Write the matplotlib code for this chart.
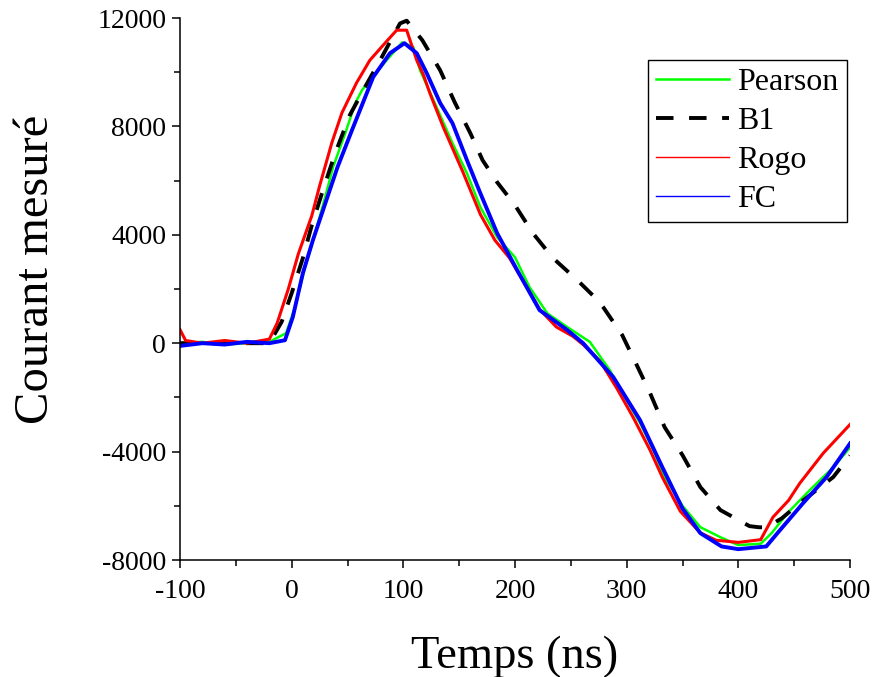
import matplotlib
matplotlib.use("Agg")
import matplotlib.pyplot as plt
from matplotlib.ticker import MultipleLocator

# values (time in ns, current)
pearson_t = [-100, -80, -60, -40, -20, -5, 3, 12, 21, 30, 37, 48, 57, 63, 75, 85, 99, 109,
             115, 127, 144, 157, 169, 184, 200, 213, 229, 247, 267, 285, 300, 312, 324, 334,
             350, 366, 384, 400, 420, 430, 444, 464, 485, 500]
pearson_i = [0, 50, -50, 0, 50, 370, 1330, 2800, 4060, 5390, 6490, 7750, 8860, 9340, 9950,
             10440, 11100, 10920, 10070, 8970, 7380, 6270, 5020, 3910, 3170, 2070, 1100, 590,
             50, -1000, -2100, -2950, -3950, -4940, -6000, -6790, -7160, -7450, -7400, -7000,
             -6270, -5420, -4580, -3850]

b1_t = [-100, -60, -20, -9, 0, 10, 18, 28, 39, 52, 65, 80, 97, 103, 117, 133, 146, 160, 171,
        184, 200, 216, 234, 256, 274, 279, 296, 310, 321, 334, 350, 366, 384, 410, 418, 425,
        439, 455, 485, 500]
b1_i = [0, 0, 0, 786, 1845, 3136, 4350, 5650, 7010, 8410, 9400, 10500, 11800, 11900, 11180,
        10070, 8890, 7750, 6750, 5940, 5090, 4060, 3140, 2320, 1590, 1330, 300, -890, -1845,
        -3100, -4130, -5310, -6160, -6750, -6790, -6800, -6460, -5900, -4940, -4150]

rogo_t = [-100, -95, -80, -60, -40, -20, -13, -3, 6, 18, 25, 36, 45, 58, 70, 82, 94, 103, 112,
          118, 124, 136, 153, 169, 182, 195, 208, 222, 237, 252, 261, 276, 291, 306, 321, 332,
          348, 366, 380, 400, 420, 431, 445, 455, 476, 500]
rogo_i = [500, 100, 0, 100, 0, 150, 740, 2000, 3300, 4700, 5800, 7400, 8500, 9600, 10440,
          11000, 11550, 11550, 10440, 9900, 9200, 7950, 6350, 4750, 3800, 3150, 2250, 1250,
          600, 250, -50, -650, -1650, -2750, -3950, -4950, -6200, -7000, -7270, -7350,
          -7250, -6420, -5800, -5170, -4060, -3000]

fc_t = [-100, -80, -60, -40, -20, -6, 1, 10, 19, 32, 41, 54, 73, 88, 101, 112, 121, 133, 144,
        157, 169, 184, 202, 222, 247, 261, 288, 312, 332, 350, 366, 385, 400, 425, 435, 458,
        479, 500]
fc_i = [-100, 0, -50, 50, 0, 110, 960, 2580, 3800, 5390, 6490, 7860, 9820, 10700, 11070,
        10700, 9960, 8860, 8120, 6750, 5530, 4060, 2690, 1220, 480, 0, -1250, -2840, -4580,
        -6100, -7010, -7500, -7600, -7500, -7010, -5900, -4940, -3700]

plt.rcParams['font.family'] = ['Liberation Serif', 'DejaVu Serif']
plt.rcParams['axes.unicode_minus'] = False

fig = plt.figure(figsize=(8.75, 6.77), dpi=100)
ax = fig.add_axes([180 / 875, 1 - 560 / 677, 670 / 875, 542 / 677])

ax.plot(pearson_t, pearson_i, color='#00ff00', lw=1.8, label='Pearson')
ax.plot(b1_t, b1_i, color='black', lw=2.8, dashes=(4.5, 4), label='B1')
ax.plot(rogo_t, rogo_i, color='#ff0000', lw=2.2, label='Rogo')
ax.plot(fc_t, fc_i, color='#0000ff', lw=2.8, label='FC')

ax.set_xlim(-100, 500)
ax.set_ylim(-8000, 12000)
ax.xaxis.set_major_locator(MultipleLocator(100))
ax.xaxis.set_minor_locator(MultipleLocator(50))
ax.yaxis.set_major_locator(MultipleLocator(4000))
ax.yaxis.set_minor_locator(MultipleLocator(2000))
ax.spines['top'].set_visible(False)
ax.spines['right'].set_visible(False)
for s in ('left', 'bottom'):
    ax.spines[s].set_linewidth(1.1)
ax.tick_params(which='major', direction='out', length=6, width=1.1, labelsize=20, pad=4)
ax.tick_params(axis='x', which='major', pad=8)
ax.tick_params(which='minor', direction='out', length=4, width=1.1)

ax.set_xlabel('Temps (ns)', fontsize=33.5)
ax.set_ylabel('Courant mesuré', fontsize=35)
ax.xaxis.set_label_coords(0.5, -0.14)
ax.yaxis.set_label_coords(-0.182, 0.537)

leg = ax.legend(loc='upper left', bbox_to_anchor=(648 / 875, 1 - 60 / 677),
                bbox_transform=fig.transFigure, fontsize=23, frameon=True, fancybox=False,
                edgecolor='black', framealpha=1, borderpad=0.25, labelspacing=0.3,
                handlelength=2.3, handletextpad=0.25, borderaxespad=0)
leg.get_frame().set_linewidth(1.0)
handle_widths = [1.8, 2.8, 1.0, 1.0]
for line, w in zip(leg.get_lines(), handle_widths):
    line.set_linewidth(w)

fig.savefig('out.png', dpi=100)
